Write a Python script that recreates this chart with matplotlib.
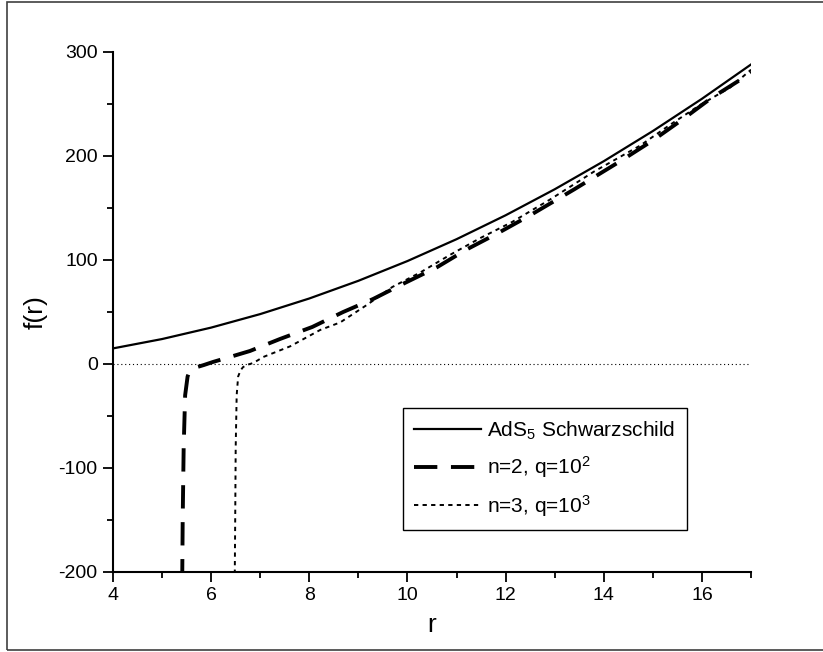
import numpy as np
import matplotlib
matplotlib.use("Agg")
import matplotlib.pyplot as plt
from matplotlib.patches import Rectangle
from matplotlib.ticker import MultipleLocator

plt.rcParams['font.family'] = ['Liberation Sans', 'DejaVu Sans']
plt.rcParams['mathtext.fontset'] = 'custom'
plt.rcParams['mathtext.rm'] = 'Liberation Sans'
plt.rcParams['mathtext.it'] = 'Liberation Sans'
plt.rcParams['axes.unicode_minus'] = False

# значения
r_ads = [4, 5, 6, 7, 8, 9, 10, 11, 12, 13, 14, 15, 16, 17]
f_ads = [15, 24, 35, 48, 63, 80, 99, 120, 143, 168, 195, 224, 255, 288]

r_n2 = [5.41, 5.42, 5.44, 5.47, 5.52, 5.57, 5.64, 5.71, 5.85, 6.04, 6.4, 6.79, 7.4,
        8.06, 8.69, 9.3, 9.95, 10.6, 11.2, 11.85, 12.5, 13.4, 14.37, 15.0, 15.6,
        16.2, 16.84, 17.0]
f_n2 = [-210, -150, -80, -30, -12, -6, -4, -3, -1, 2, 7, 12.5, 24,
        35.6, 50, 62.5, 78, 93, 110, 126, 143, 168, 196, 215, 235,
        256, 275, 281]

r_n3 = [6.48, 6.49, 6.5, 6.52, 6.55, 6.6, 6.65, 6.72, 6.86, 7.06, 7.61, 8.22, 8.63,
        9.18, 9.69, 10.26, 10.87, 11.48, 12.13, 12.9, 13.8, 14.74, 15.35, 15.96,
        16.58, 17.0]
f_n3 = [-210, -150, -80, -30, -12, -6, -3, -1, 1, 6.7, 17, 32.7, 40,
        57, 74, 88, 105, 121, 136.5, 158, 185, 210, 230, 249,
        266, 283]

x_ticks = [4, 6, 8, 10, 12, 14, 16]
y_ticks = [-200, -100, 0, 100, 200, 300]

fig = plt.figure(figsize=(8.23, 6.52), dpi=100)
ax = fig.add_axes([113 / 823, 80 / 652, 638 / 823, 520 / 652])

ax.axhline(0, color='black', lw=0.8, ls=(0, (1, 2.5)), zorder=1)
ax.plot(r_ads, f_ads, color='black', lw=1.6, label='AdS$_5$ Schwarzschild')
ax.plot(r_n2, f_n2, color='black', lw=2.8, ls=(0, (6, 3.5)), label='n=2, q=10$^2$')
ax.plot(r_n3, f_n3, color='black', lw=1.4, ls=(0, (2.2, 2.2)), label='n=3, q=10$^3$')

ax.set_xlim(4, 17)
ax.set_ylim(-200, 300)
ax.set_xticks(x_ticks)
ax.set_yticks(y_ticks)
ax.xaxis.set_minor_locator(MultipleLocator(1))
ax.yaxis.set_minor_locator(MultipleLocator(50))
ax.tick_params(which='major', direction='out', length=7, width=1.3, labelsize=14, pad=4)
ax.tick_params(which='minor', direction='out', length=4, width=1.3)

for s in ['top', 'right']:
    ax.spines[s].set_visible(False)
for s in ['left', 'bottom']:
    ax.spines[s].set_linewidth(1.5)

ax.set_xlabel('r', fontsize=19, labelpad=6)
ax.set_ylabel('f(r)', fontsize=19, labelpad=8)

leg = ax.legend(loc='lower left', bbox_to_anchor=(290 / 638, 42 / 520), borderaxespad=0,
                fontsize=15, handlelength=3.2, handletextpad=0.3, labelspacing=0.6,
                borderpad=0.55, fancybox=False, framealpha=1, edgecolor='black')
leg.get_frame().set_linewidth(1.0)

# рамка вокруг рисунка
fig.add_artist(Rectangle((7 / 823, 2 / 652), 1.2, 1 - 3.5 / 652,
                         transform=fig.transFigure, fill=False,
                         edgecolor='#404040', lw=1.2, clip_on=False))

fig.savefig('out.png', dpi=100)
